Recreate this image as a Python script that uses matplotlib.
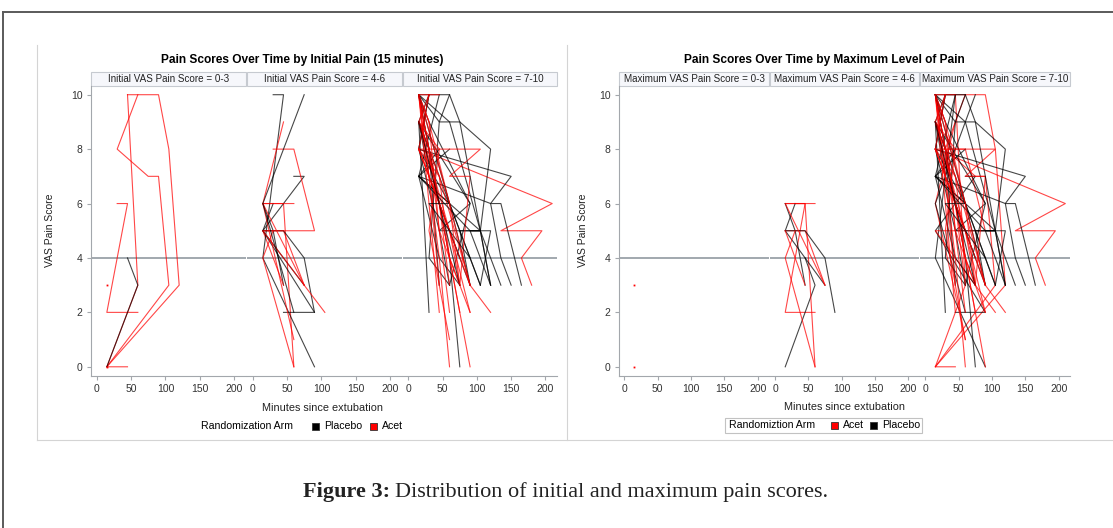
import matplotlib.pyplot as plt
from matplotlib.patches import Rectangle
from matplotlib.lines import Line2D

plt.rcParams['font.family'] = ['Liberation Sans', 'DejaVu Sans']

W, H = 1113, 528

# --- data: one entry per patient (minutes since extubation, VAS score), arm ---
# patients whose first reading was 0-3
low_times = [[45, 15, 120, 105, 90, 45], [15, 105, 90, 75, 30, 60], [15, 60, 45],
             [60, 15, 45, 30], [15, 60, 45], [15], [15]]
low_scores = [[0, 0, 3, 8, 10, 10], [0, 3, 7, 7, 8, 10], [0, 3, 10],
              [2, 2, 6, 6], [0, 3, 4], [3], [0]]
low_arm = ['Acet', 'Acet', 'Acet', 'Acet', 'Placebo', 'Acet', 'Acet']

# patients whose first reading was 4-6
mid_times = [[60, 45, 15], [75, 15, 30], [45, 30, 15], [75, 45, 15], [90, 75, 45, 15],
             [45, 15], [90, 15, 45, 30], [45, 90, 15, 75, 60], [105, 15, 90, 60, 30],
             [60, 15, 45], [60, 15, 30], [75, 15, 60], [60, 15, 75]]
mid_scores = [[0, 6, 6], [3, 5, 6], [3, 5, 6], [3, 5, 5], [2, 4, 5, 5],
              [3, 5], [0, 4, 10, 10], [2, 2, 5, 7, 7], [2, 5, 5, 8, 8],
              [1, 6, 9], [0, 4, 5], [3, 6, 6], [2, 6, 10]]
mid_arm = ['Acet', 'Placebo', 'Placebo', 'Acet', 'Placebo',
           'Acet', 'Placebo', 'Placebo', 'Acet',
           'Acet', 'Acet', 'Acet', 'Placebo']

# patients whose first reading was 7-10
high_times = [[180, 165, 195, 135, 210, 15], [165, 135, 120, 150, 15], [135, 105, 120, 75, 60, 15],
              [120, 90, 105, 60, 15], [105, 75, 45, 15, 30], [90, 60, 15, 45], [60, 30, 45, 15],
              [45, 30, 15], [30, 15], [75, 60, 30, 15], [75, 45, 15, 60], [105, 90, 60, 15, 30],
              [90, 75, 105, 15, 45], [60, 45, 90, 15], [120, 105, 45, 15, 30], [150, 135, 120, 15],
              [60, 90, 30, 15], [90, 60, 45, 30, 15], [75, 45, 30, 15], [60, 45, 30, 15],
              [90, 75, 45, 15], [45, 30, 15], [75, 60, 30, 15], [90, 60, 45, 15],
              [120, 90, 60, 30, 15], [75, 45, 30, 15], [60, 45, 15, 30], [90, 75, 30, 15],
              [75, 90, 60, 105, 15], [60, 30, 45, 15], [75, 60, 15, 30], [60, 45, 30, 15],
              [45, 30, 15], [90, 45, 15], [75, 45, 60, 15], [105, 120, 90, 15],
              [90, 60, 45, 15], [90, 30, 45, 15], [75, 60, 15, 45], [120, 75, 45, 60]]
high_scores = [[3, 4, 5, 5, 6, 8], [3, 6, 6, 7, 8], [3, 5, 8, 9, 10, 10],
               [3, 5, 5, 9, 10], [3, 5, 7, 9, 10], [3, 6, 7, 10], [3, 4, 9, 10],
               [3, 8, 9], [2, 9], [0, 4, 8, 10], [3, 4, 7, 8], [3, 4, 6, 8, 10],
               [3, 5, 5, 7, 8], [3, 5, 6, 9], [3, 5, 5, 8, 10], [3, 4, 6, 7],
               [3, 6, 9, 10], [3, 5, 6, 8, 10], [4, 6, 7, 9], [0, 4, 7, 10],
               [0, 2, 6, 9], [2, 6, 10], [2, 4, 8, 10], [2, 4, 7, 9],
               [2, 3, 6, 9, 10], [3, 5, 8, 10], [3, 6, 8, 10], [3, 4, 7, 8],
               [3, 7, 7, 8, 8], [1, 5, 8, 9], [3, 5, 9, 10], [2, 5, 9, 10],
               [3, 7, 10], [3, 7, 8], [3, 6, 6, 10], [3, 5, 5, 7],
               [2, 5, 6, 8], [4, 6, 6, 9], [3, 6, 10, 10], [3, 9, 9, 10]]
high_arm = ['Acet', 'Placebo', 'Placebo', 'Placebo', 'Placebo', 'Placebo', 'Placebo',
            'Placebo', 'Placebo', 'Placebo', 'Placebo', 'Placebo', 'Placebo', 'Placebo',
            'Placebo', 'Placebo', 'Placebo', 'Placebo', 'Placebo', 'Acet',
            'Acet', 'Acet', 'Acet', 'Acet', 'Acet', 'Acet', 'Acet', 'Acet',
            'Acet', 'Acet', 'Acet', 'Acet', 'Acet', 'Acet', 'Placebo', 'Placebo',
            'Acet', 'Placebo', 'Acet', 'Placebo']

left_strips = ['Initial VAS Pain Score = 0-3', 'Initial VAS Pain Score = 4-6',
               'Initial VAS Pain Score = 7-10']
right_strips = ['Maximum VAS Pain Score = 0-3', 'Maximum VAS Pain Score = 4-6',
                'Maximum VAS Pain Score = 7-10']
x_ticks = [0, 50, 100, 150, 200]
y_ticks = [0, 2, 4, 6, 8, 10]

arm_colors = {'Acet': '#ff0000', 'Placebo': '#000000'}
axis_gray = '#a3a7ac'


def band(v):
    return 0 if v <= 3 else (1 if v <= 6 else 2)


fig = plt.figure(figsize=(W / 100, H / 100), dpi=100)


def px_axes(x0, x1, y0=86, y1=375.5):
    return fig.add_axes([x0 / W, 1 - y1 / H, (x1 - x0) / W, (y1 - y0) / H])


def draw_patient(ax, t, s, arm):
    c = arm_colors[arm]
    if len(t) == 1:
        ax.plot(t, s, marker='s', ms=1.3, mew=0, color=c, linestyle='none')
    else:
        ax.plot(t, s, color=c, lw=0.8, alpha=0.72)


def setup_panel(ax, strip, first):
    ax.set_xlim(-8, 217)
    ax.set_ylim(-0.32, 10.32)
    ax.axhline(4, color='#9aa1a8', lw=1.3, zorder=0)
    for side in ['top', 'right']:
        ax.spines[side].set_visible(False)
    ax.spines['bottom'].set_color(axis_gray)
    ax.spines['left'].set_color(axis_gray)
    ax.spines['left'].set_visible(first)
    ax.set_xticks(x_ticks)
    ax.set_yticks(y_ticks)
    ax.tick_params(axis='both', length=3, width=0.8, color=axis_gray,
                   labelsize=7.5, labelcolor='#333333', pad=3)
    if not first:
        ax.tick_params(axis='y', left=False, labelleft=False)
    hstrip = 14 / 289.5
    ax.add_patch(Rectangle((0, 1), 1, hstrip, transform=ax.transAxes, clip_on=False,
                           fc='#f6f7fb', ec='#c6cad0', lw=0.8))
    ax.text(0.5, 1 + hstrip / 2, strip, transform=ax.transAxes, ha='center',
            va='center', fontsize=7.1, color='#222222')


left_px = [(91, 246), (247, 402), (403, 557)]
right_px = [(619, 769), (770, 919), (920, 1070)]

groups = [(low_times, low_scores, low_arm), (mid_times, mid_scores, mid_arm),
          (high_times, high_scores, high_arm)]

# left chart: faceted by initial pain
for k, (x0, x1) in enumerate(left_px):
    ax = px_axes(x0, x1)
    setup_panel(ax, left_strips[k], k == 0)
    times, scores, arms = groups[k]
    for t, s, a in zip(times, scores, arms):
        draw_patient(ax, t, s, a)

# right chart: faceted by maximum pain
right_axes = []
for k, (x0, x1) in enumerate(right_px):
    ax = px_axes(x0, x1)
    setup_panel(ax, right_strips[k], k == 0)
    right_axes.append(ax)
for times, scores, arms in groups:
    for t, s, a in zip(times, scores, arms):
        draw_patient(right_axes[band(max(s))], t, s, a)

# titles and labels
fig.text(302 / W, 1 - 60 / H, 'Pain Scores Over Time by Initial Pain (15 minutes)',
         ha='center', va='center', fontsize=8.6, weight='bold')
fig.text(824 / W, 1 - 60 / H, 'Pain Scores Over Time by Maximum Level of Pain',
         ha='center', va='center', fontsize=8.6, weight='bold')
fig.text(50 / W, 1 - 230 / H, 'VAS Pain Score', rotation=90, ha='center', va='center',
         fontsize=7.5, color='#222222')
fig.text(583 / W, 1 - 230 / H, 'VAS Pain Score', rotation=90, ha='center', va='center',
         fontsize=7.5, color='#222222')
fig.text(323 / W, 1 - 408 / H, 'Minutes since extubation', ha='center', va='center',
         fontsize=7.8, color='#222222')
fig.text(844 / W, 1 - 407 / H, 'Minutes since extubation', ha='center', va='center',
         fontsize=7.8, color='#222222')


def legend_square(x, y, color):
    fig.add_artist(Rectangle((x / W, 1 - (y + 3.5) / H), 7 / W, 7 / H,
                             transform=fig.transFigure, fc=color, ec='#333333', lw=0.6))


# left legend
fig.text(201 / W, 1 - 426 / H, 'Randomization Arm', ha='left', va='center', fontsize=7.6)
legend_square(311.5, 426, '#000000')
fig.text(324 / W, 1 - 426 / H, 'Placebo', ha='left', va='center', fontsize=7.6)
legend_square(370, 426, '#ff0000')
fig.text(382 / W, 1 - 426 / H, 'Acet', ha='left', va='center', fontsize=7.6)

# right legend (framed)
fig.add_artist(Rectangle((725 / W, 1 - 433 / H), 197 / W, 15 / H, transform=fig.transFigure,
                         fc='white', ec='#c2c2c2', lw=0.8))
fig.text(729 / W, 1 - 425.5 / H, 'Randomiztion Arm', ha='left', va='center', fontsize=7.6)
legend_square(831, 425.5, '#ff0000')
fig.text(843 / W, 1 - 425.5 / H, 'Acet', ha='left', va='center', fontsize=7.6)
legend_square(870, 425.5, '#000000')
fig.text(882 / W, 1 - 425.5 / H, 'Placebo', ha='left', va='center', fontsize=7.6)

# page frame and image borders
fig.add_artist(Line2D([3 / W, 1], [1 - 12 / H] * 2, color='#5a5a5a', lw=1.4))
fig.add_artist(Line2D([3 / W] * 2, [0, 1 - 12 / H], color='#5a5a5a', lw=1.4))
fig.add_artist(Line2D([37 / W] * 2, [1 - 440 / H, 1 - 45 / H], color='#d4d4d4', lw=0.8))
fig.add_artist(Line2D([567 / W] * 2, [1 - 440 / H, 1 - 45 / H], color='#d4d4d4', lw=0.8))
fig.add_artist(Line2D([37 / W, 1], [1 - 440 / H] * 2, color='#d4d4d4', lw=0.8))

# caption: bold label followed by the regular sentence
cap_bold = fig.text(303 / W, 1 - 492 / H, 'Figure 3:', ha='left', va='center', fontsize=16,
                    family='Liberation Serif', weight='bold', color='#222222')
renderer = fig.canvas.get_renderer()
bb = cap_bold.get_window_extent(renderer)
fig.text((bb.x1 + 5) / W, 1 - 492 / H, 'Distribution of initial and maximum pain scores.',
         ha='left', va='center', fontsize=16, family='Liberation Serif', color='#222222')

fig.savefig('out.png', dpi=100)
